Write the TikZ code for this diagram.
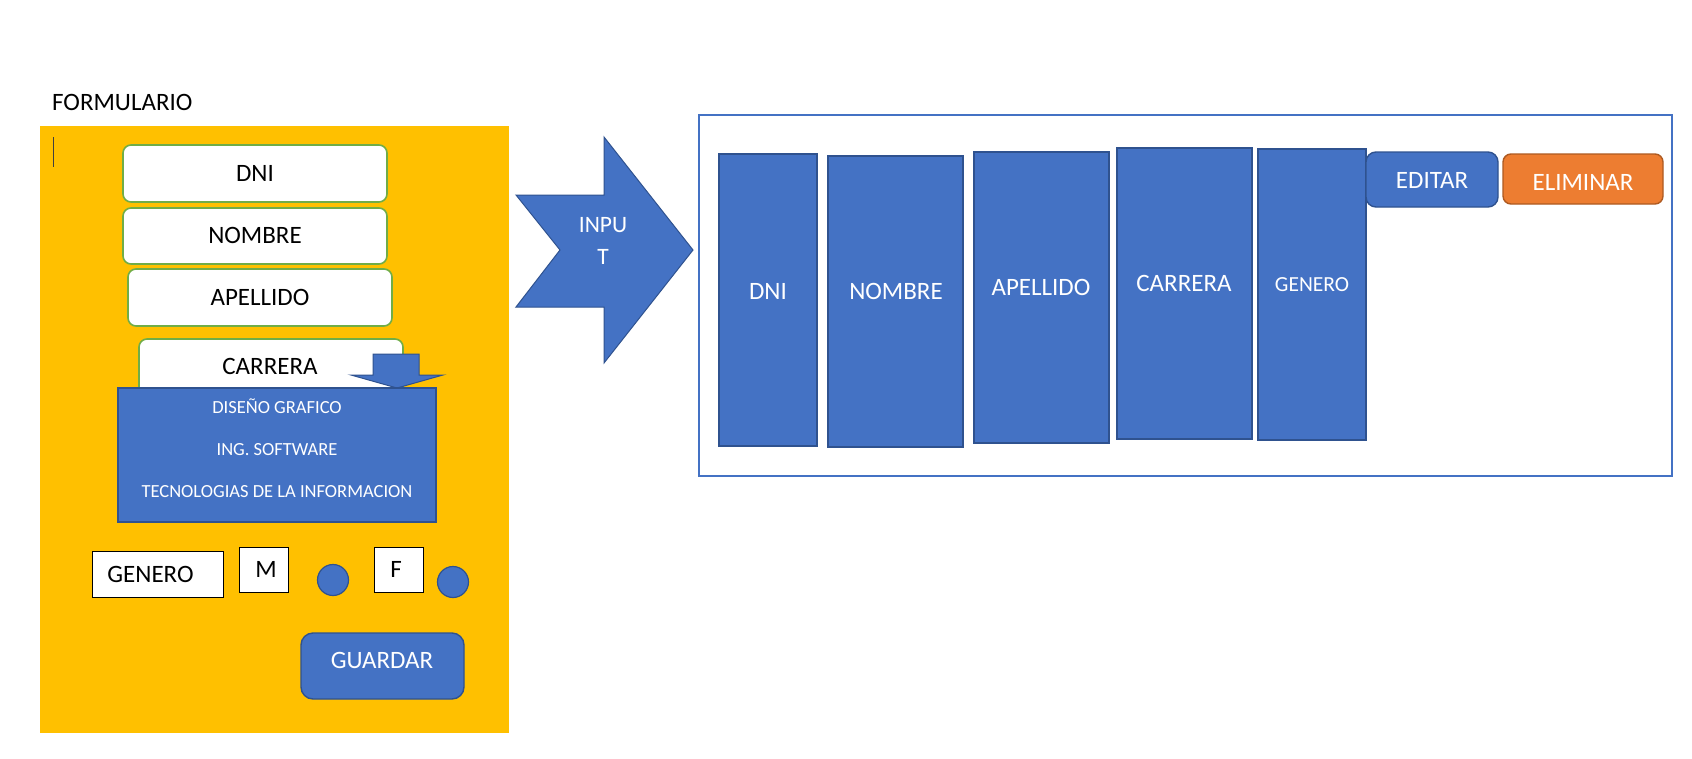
\documentclass[tikz,border=0pt]{standalone}
\usepackage{fontspec}
\setmainfont{Carlito}
\definecolor{ofyellow}{HTML}{FFC000}
\definecolor{ofblue}{HTML}{4472C4}
\definecolor{ofblueline}{HTML}{2F528F}
\definecolor{ofgreen}{HTML}{70AD47}
\definecolor{oforange}{HTML}{ED7D31}
\definecolor{oforangeline}{HTML}{AE5A21}
\usetikzlibrary{fit}
\tikzset{
  boxbase/.style={inner sep=0pt, outer sep=0pt},
  field/.style={boxbase, draw=ofgreen, line width=1.6pt, fill=white, rounded corners=8pt},
  bluebox/.style={boxbase, draw=ofblueline, line width=1.4pt, fill=ofblue},
  bluebtn/.style={bluebox, rounded corners=10pt},
  orangebtn/.style={boxbase, draw=oforangeline, line width=1.4pt, fill=oforange, rounded corners=8pt},
  plainbox/.style={boxbase, draw=black, line width=1pt, fill=white},
  tbig/.style={inner sep=0pt, font=\fontsize{25}{30}\selectfont, text height=15.8pt, text depth=0pt},
  tinput/.style={inner sep=0pt, font=\fontsize{23.5}{28}\selectfont, text height=14.8pt, text depth=0pt},
  tmid/.style={inner sep=0pt, font=\fontsize{21.5}{26}\selectfont, text height=13.6pt, text depth=0pt},
  tsmall/.style={inner sep=0pt, font=\fontsize{18.5}{22}\selectfont, text height=11.7pt, text depth=0pt},
  wtxt/.style={text=white},
}
\begin{document}
\begin{tikzpicture}[x=1pt,y=-1pt]
\useasboundingbox (0,0) rectangle (1692,758);
\fill[white] (0,0) rectangle (1692,758);

% ---------- FORMULARIO ----------
\node[tbig, anchor=west] (title) at (52,103) {FORMULARIO};
\node[boxbase, fill=ofyellow, fit={(40,126)(509,733)}] (form) {};
\draw[line width=1pt, black!75] (53,137) -- (53,167);

\node[field, fit={(123,145)(387,202)}] (fdni) {};
\node[tbig] (fdnit) at (255,173.5) {DNI};
\node[field, fit={(123,208)(387,264)}] (fnom) {};
\node[tbig] (fnomt) at (255,236) {NOMBRE};
\node[field, fit={(128,269)(392,326)}] (fape) {};
\node[tbig] (fapet) at (260,297.5) {APELLIDO};
\node[field, fit={(139,339)(403,398)}] (fcar) {};
\node[tbig] (fcart) at (270,367) {CARRERA};

% drop-down arrow
\fill[ofblue, draw=ofblueline, line width=1pt]
  (373,354) -- (419,354) -- (419,375) -- (443,375) -- (397,388)
  -- (351,375) -- (373,375) -- cycle;

\node[bluebox, fit={(118,388)(436,522)}] (drop) {};
\node[tsmall, wtxt] (opt1) at (277,408) {DISEÑO GRAFICO};
\node[tsmall, wtxt] (opt2) at (277,450) {ING. SOFTWARE};
\node[tsmall, wtxt] (opt3) at (277,492) {TECNOLOGIAS DE LA INFORMACION};

\node[plainbox, fit={(92,551)(223,597)}] (gen) {};
\node[tbig] (gent) at (150.5,575) {GENERO};
\node[plainbox, fit={(239,547)(288,592)}] (mbox) {};
\node[tbig] (mt) at (266,570) {M};
\node[boxbase, circle, fill=ofblue, draw=ofblueline, line width=1.2pt, minimum size=31pt] (mrad) at (333,580) {};
\node[plainbox, fit={(374,547)(423,592)}] (fbox) {};
\node[tbig] (ft) at (396,570) {F};
\node[boxbase, circle, fill=ofblue, draw=ofblueline, line width=1.2pt, minimum size=31pt] (frad) at (453,582) {};

\node[bluebtn, rounded corners=12pt, fit={(301,633)(464,699)}] (guardar) {};
\node[tbig, wtxt] (guardart) at (382,661) {GUARDAR};

% ---------- INPUT arrow ----------
\fill[ofblue, draw=ofblueline, line width=1pt]
  (516,195) -- (604,195) -- (604,137) -- (693,250) -- (604,363)
  -- (604,307) -- (516,307) -- (560,250) -- cycle;
\node[tinput, wtxt] (inp1) at (603,225) {INPU};
\node[tinput, wtxt] (inp2) at (603,257) {T};

% ---------- TABLE ----------
\node[boxbase, draw=ofblue, line width=2pt, fit={(699,115)(1672,476)}] (table) {};

\node[bluebox, fit={(719,154)(817,446)}] (cdni) {};
\node[tbig, wtxt] (cdnit) at (768,292) {DNI};
\node[bluebox, fit={(828,156)(963,447)}] (cnom) {};
\node[tbig, wtxt] (cnomt) at (896,292) {NOMBRE};
\node[bluebox, fit={(974,152)(1109,443)}] (cape) {};
\node[tbig, wtxt] (capet) at (1041,288) {APELLIDO};
\node[bluebox, fit={(1117,148)(1252,439)}] (ccar) {};
\node[tbig, wtxt] (ccart) at (1184,284) {CARRERA};
\node[bluebox, fit={(1258,149)(1366,440)}] (cgen) {};
\node[tmid, wtxt] (cgent) at (1312,285) {GENERO};

\node[bluebtn, fit={(1366,152)(1498,207)}] (editar) {};
\node[tbig, wtxt] (editart) at (1432,181) {EDITAR};
\node[orangebtn, fit={(1503,154)(1663,204)}] (eliminar) {};
\node[tbig, wtxt] (eliminart) at (1583,183) {ELIMINAR};
\end{tikzpicture}
\end{document}
